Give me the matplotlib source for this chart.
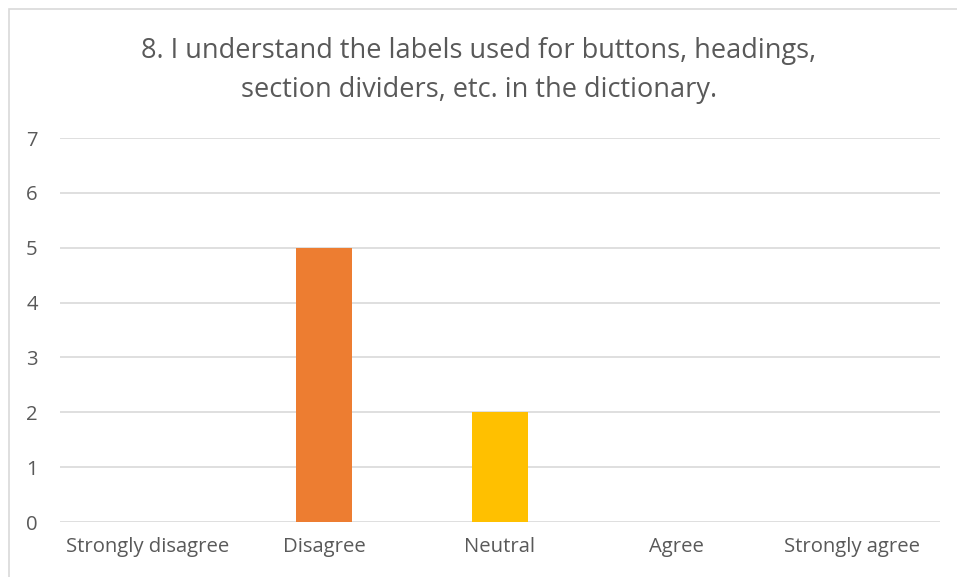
import matplotlib.pyplot as plt
from matplotlib.patches import Rectangle

categories = ["Strongly disagree", "Disagree", "Neutral", "Agree", "Strongly agree"]
counts = [0, 5, 2, 0, 0]
bar_colors = ["#4472C4", "#ED7D31", "#FFC000", "#A5A5A5", "#5B9BD5"]
y_ticks = [0, 1, 2, 3, 4, 5, 6, 7]
title_lines = ["8. I understand the labels used for buttons, headings,",
               "section dividers, etc. in the dictionary."]

W, H = 957, 577
plt.rcParams['font.family'] = ['Open Sans', 'DejaVu Sans']
text_color = "#595959"
grid_color = "#D9D9D9"

fig = plt.figure(figsize=(W / 100, H / 100), dpi=100)
ax = fig.add_axes([60 / W, 1 - 522 / H, 880 / W, 384 / H])

# chart frame (left and top edges visible)
fig.patches.append(Rectangle((8.5 / W, -0.1), 1.2, (H - 8.5) / H + 0.1,
                             transform=fig.transFigure, fill=False,
                             edgecolor=grid_color, linewidth=1.2))

x = range(len(categories))
ax.bar(x, counts, width=0.32, color=bar_colors, zorder=3)

ax.set_xlim(-0.5, len(categories) - 0.5)
ax.set_ylim(0, 7)
ax.set_yticks(y_ticks)
ax.set_xticks(list(x))
ax.set_xticklabels(categories)
ax.tick_params(axis='both', length=0, labelsize=14.6, colors=text_color)
ax.tick_params(axis='y', pad=16)
ax.tick_params(axis='x', pad=11)
ax.grid(axis='y', color=grid_color, linewidth=1.2, zorder=0)
for s in ax.spines.values():
    s.set_visible(False)

# two-line title, placed by baseline
for line, base in zip(title_lines, [58, 97]):
    fig.text(479 / W, 1 - base / H, line, ha='center', va='baseline',
             fontsize=19.5, color=text_color)

fig.savefig("out.png", dpi=100)
